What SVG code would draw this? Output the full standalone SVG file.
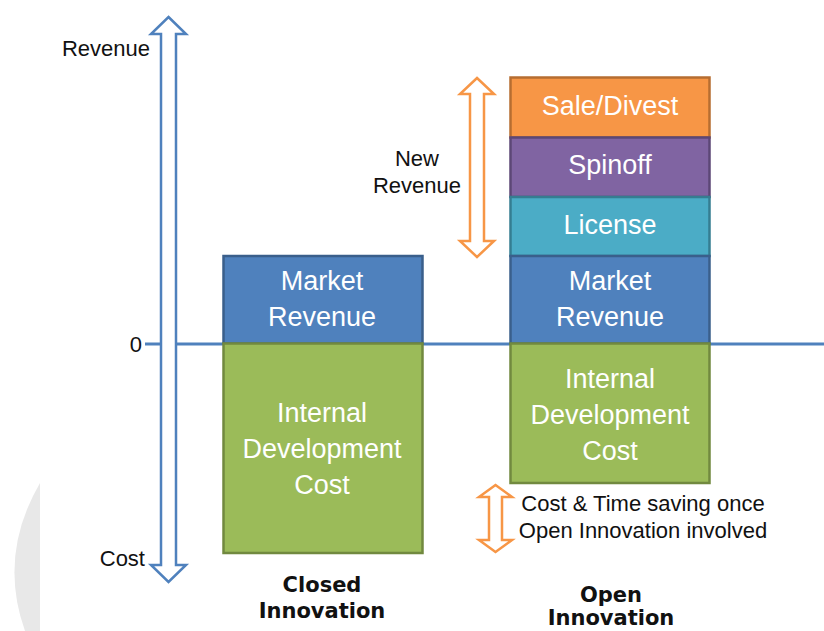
<svg xmlns="http://www.w3.org/2000/svg" width="824" height="631" viewBox="0 0 824 631">
<style>
.lbl{font-family:"Liberation Sans",Arial,sans-serif;font-size:22px;fill:#111}
.box text{font-family:"Liberation Sans",Arial,sans-serif;font-size:27px;fill:#fff;text-anchor:middle}
.bold{font-family:"DejaVu Sans",Verdana,sans-serif;font-weight:bold;font-size:21px;fill:#111;text-anchor:middle}
.blue rect{fill:#4f81bd;stroke:#3a5f8b;stroke-width:2.5}
.green rect{fill:#9bbb59;stroke:#71893f;stroke-width:2.5}
.orange rect{fill:#f79646;stroke:#b66d31;stroke-width:2.5}
.purple rect{fill:#8064a2;stroke:#5c4776;stroke-width:2.5}
.teal rect{fill:#4bacc6;stroke:#357d91;stroke-width:2.5}
.arrB{fill:#fff;stroke:#4f81bd;stroke-width:2.5;stroke-linejoin:miter}
.arrO{fill:#fff;stroke:#f79646;stroke-width:2.5;stroke-linejoin:miter}
</style>
<rect width="824" height="631" fill="#fff"/>
<path d="M40,483 Q-2,555 25,631 L40,631 Z" fill="#e8e8e8"/>

<g id="connectors">
<line id="zero-line" x1="145" y1="344" x2="824" y2="344" stroke="#4f81bd" stroke-width="3"/>
<polygon id="axis-arrow" class="arrB" points="168.5,17 186,34 176,34 176,565 186,565 168.5,582 151,565 161,565 161,34 151,34"/>
<polygon id="new-revenue-arrow" class="arrO" points="477,78 494,94 484,94 484,241 494,241 477,257 460,241 470,241 470,94 460,94"/>
<polygon id="saving-arrow" class="arrO" points="495.5,485 512,497 502,497 502,540 512,540 495.5,552 479,540 489,540 489,497 479,497"/>
</g>

<g id="axis-labels">
<text class="lbl" x="150" y="56" text-anchor="end">Revenue</text>
<text class="lbl" x="142" y="352" text-anchor="end">0</text>
<text class="lbl" x="145" y="566" text-anchor="end">Cost</text>
<text class="lbl" x="417" y="166" text-anchor="middle">New</text>
<text class="lbl" x="417" y="193" text-anchor="middle">Revenue</text>
<text class="lbl" x="643" y="511" text-anchor="middle">Cost &amp; Time saving once</text>
<text class="lbl" x="643" y="538" text-anchor="middle">Open Innovation involved</text>
</g>

<g id="closed-market-revenue" class="box blue">
<rect x="223.5" y="256" width="199" height="87.5"/>
<text x="322" y="290">Market</text>
<text x="322" y="326">Revenue</text>
</g>
<g id="closed-internal-cost" class="box green">
<rect x="223.5" y="343.5" width="199" height="209.5"/>
<text x="322" y="422">Internal</text>
<text x="322" y="458">Development</text>
<text x="322" y="494">Cost</text>
</g>

<g id="open-sale-divest" class="box orange">
<rect x="510.5" y="77.5" width="199" height="60"/>
<text x="610" y="115">Sale/Divest</text>
</g>
<g id="open-spinoff" class="box purple">
<rect x="510.5" y="137.5" width="199" height="59.5"/>
<text x="610" y="174">Spinoff</text>
</g>
<g id="open-license" class="box teal">
<rect x="510.5" y="197" width="199" height="59"/>
<text x="610" y="234">License</text>
</g>
<g id="open-market-revenue" class="box blue">
<rect x="510.5" y="256" width="199" height="87.5"/>
<text x="610" y="290">Market</text>
<text x="610" y="326">Revenue</text>
</g>
<g id="open-internal-cost" class="box green">
<rect x="510.5" y="343.5" width="199" height="139.5"/>
<text x="610" y="388">Internal</text>
<text x="610" y="424">Development</text>
<text x="610" y="460">Cost</text>
</g>

<g id="column-labels">
<text class="bold" x="322" y="592">Closed</text>
<text class="bold" x="322" y="618">Innovation</text>
<text class="bold" x="611" y="602">Open</text>
<text class="bold" x="611" y="625">Innovation</text>
</g>
</svg>
